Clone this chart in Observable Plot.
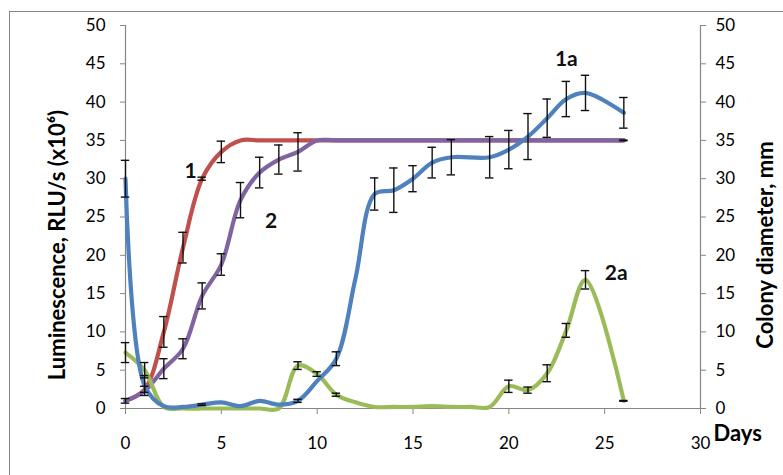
<!DOCTYPE html>
<html>
<head>
<meta charset="utf-8">
<script src="https://cdn.jsdelivr.net/npm/d3@7"></script>
<script src="https://cdn.jsdelivr.net/npm/@observablehq/plot@0.6"></script>
<style>
  body { margin: 0; background: #fff; overflow: hidden; }
  #chart { position: relative; width: 783px; height: 475px; }
</style>
</head>
<body>
<div id="chart"></div>
<script>
// ---- Data ----
const xTicks = [0, 5, 10, 15, 20, 25, 30];
const yTicks = [0, 5, 10, 15, 20, 25, 30, 35, 40, 45, 50];

// Curve 1 (red)
const days1 = [0, 1, 2, 3, 4, 5, 6, 7, 8, 9, 10, 25, 26];
const vals1 = [1, 2.5, 10, 21, 30, 33.5, 35, 35, 35, 35, 35, 35, 35];
const err1  = [0.3, 0.4, 2, 2, 0.2, 1.4, null, null, null, null, null, null, null];

// Curve 2 (purple)
const days2 = [0, 1, 2, 3, 4, 5, 6, 7, 8, 9, 10, 11, 25, 26];
const vals2 = [1, 2.3, 5.2, 7.8, 14.7, 18.8, 27.2, 30.8, 32.5, 33.5, 35, 35, 35, 35];
const err2  = [null, null, 1.3, 1.3, 1.7, 1.4, 2.3, 2.0, 1.9, 2.5, null, null, null, 0.05];

// Curve 1a (blue)
const days1a = [0, 1, 2, 3, 4, 5, 6, 7, 8, 9, 10, 11, 12, 13, 14, 15, 16, 17, 19, 20, 21, 22, 23, 24, 26];
const vals1a = [30, 3, 0.3, 0.2, 0.5, 0.8, 0.3, 1, 0.5, 1, 3.6, 6.5, 17, 28, 28.5, 30, 32.1, 32.8, 32.8, 33.8, 35.5, 37.9, 40.4, 41.2, 38.6];
const err1a  = [2.4, 1.3, null, null, 0.1, null, null, null, null, 0.2, null, 0.9, null, 2.1, 2.9, 1.7, 2.0, 2.3, 2.7, 2.5, 3.0, 2.5, 2.3, 2.3, 2.0];

// Curve 2a (green)
const days2a = [0, 1, 2, 3, 4, 5, 6, 7, 8, 9, 10, 11, 12, 13, 14, 15, 16, 17, 18, 19, 20, 21, 22, 23, 24, 26];
const vals2a = [7.3, 5, 0.2, 0, 0, 0, 0, 0, 0, 5.6, 4.5, 1.8, 0.8, 0.2, 0.2, 0.2, 0.3, 0.2, 0.2, 0.2, 2.9, 2.4, 4.6, 10.2, 16.8, 1];
const err2a  = [1.3, 1.0, null, null, null, null, null, null, null, 0.5, 0.3, 0.2, null, null, null, null, null, null, null, null, 0.8, 0.4, 1.1, 0.9, 1.2, 0.05];

const seriesNames  = ["1", "2", "1a", "2a"];
const seriesColors = ["#c0504d", "#8064a2", "#4f81bd", "#9bbb59"];

// Curve labels
const labelText = ["1", "2", "1a", "2a"];
const labelDay  = [3.4, 7.6, 23.0, 25.6];
const labelVal  = [31.0, 24.4, 45.6, 17.6];

const leftTitle  = "Luminescence, RLU/s (x10⁶)";
const rightTitle = "Colony diameter, mm";
const xTitle     = "Days";

// ---- Build tables ----
function build(name, days, vals, errs) {
  return days.map((d, i) => ({series: name, day: d, value: vals[i], err: errs[i]}));
}
const s1  = build("1", days1, vals1, err1);
const s2  = build("2", days2, vals2, err2);
const s1a = build("1a", days1a, vals1a, err1a);
const s2a = build("2a", days2a, vals2a, err2a);
const all = [...s1, ...s2, ...s2a, ...s1a];
const errs = all.filter(d => d.err != null);
const labels = labelText.map((t, i) => ({t, day: labelDay[i], v: labelVal[i]}));

const axisColor = "#868686";
const capHalf = 0.22;

const lineOpts = (data, color) => Plot.line(data, {
  x: "day", y: "value", stroke: color, strokeWidth: 4.2, curve: "catmull-rom"
});

const plot = Plot.plot({
  width: 783,
  height: 475,
  marginLeft: 125,
  marginRight: 83,
  marginTop: 25,
  marginBottom: 67,
  style: {fontFamily: "Lato, 'Open Sans', sans-serif", fontSize: "17px", color: "#000", background: "#fff"},
  x: {domain: [0, 30]},
  y: {domain: [0, 50]},
  marks: [
    Plot.axisX({ticks: xTicks, tickSize: 6, tickPadding: 22, stroke: axisColor, label: null, fontSize: 17}),
    Plot.axisY({anchor: "left", ticks: yTicks, tickSize: 5, tickPadding: 15, stroke: axisColor, label: null, fontSize: 17}),
    Plot.axisY({anchor: "right", ticks: yTicks, tickSize: 5, tickPadding: 10, stroke: axisColor, label: null, fontSize: 17}),
    Plot.ruleY([0], {stroke: axisColor, strokeWidth: 1.2}),
    Plot.ruleX([0, 30], {stroke: axisColor, strokeWidth: 1.2}),
    lineOpts(s1, seriesColors[0]),
    lineOpts(s2, seriesColors[1]),
    lineOpts(s2a, seriesColors[3]),
    lineOpts(s1a, seriesColors[2]),
    // error bars
    Plot.ruleX(errs, {x: "day", y1: d => d.value - d.err, y2: d => d.value + d.err, stroke: "#111", strokeWidth: 1.4}),
    Plot.ruleY(errs, {y: d => d.value + d.err, x1: d => d.day - capHalf, x2: d => d.day + capHalf, stroke: "#111", strokeWidth: 1.4}),
    Plot.ruleY(errs, {y: d => d.value - d.err, x1: d => d.day - capHalf, x2: d => d.day + capHalf, stroke: "#111", strokeWidth: 1.4}),
    // curve labels
    Plot.text(labels, {x: "day", y: "v", text: "t", fontWeight: "bold", fontSize: 21, fill: "#111", textAnchor: "middle"}),
    // axis titles
    Plot.text([leftTitle], {frameAnchor: "left", textAnchor: "middle", dx: -68, dy: 28, rotate: -90, fontWeight: "bold", fontSize: 22, fill: "#000"}),
    Plot.text([rightTitle], {frameAnchor: "right", textAnchor: "middle", dx: 65, dy: 28, rotate: -90, fontWeight: "bold", fontSize: 22, fill: "#000"}),
    Plot.text([xTitle], {frameAnchor: "bottom-right", dx: 13, dy: 32, textAnchor: "start", fontWeight: "bold", fontSize: 22, fill: "#000"})
  ]
});

// outer chart border (Excel chart area)
d3.select(plot).append("rect")
  .attr("x", 9.5).attr("y", 11.5).attr("width", 820).attr("height", 520)
  .attr("fill", "none").attr("stroke", axisColor).attr("stroke-width", 1);

document.getElementById("chart").appendChild(plot);
</script>
</body>
</html>
